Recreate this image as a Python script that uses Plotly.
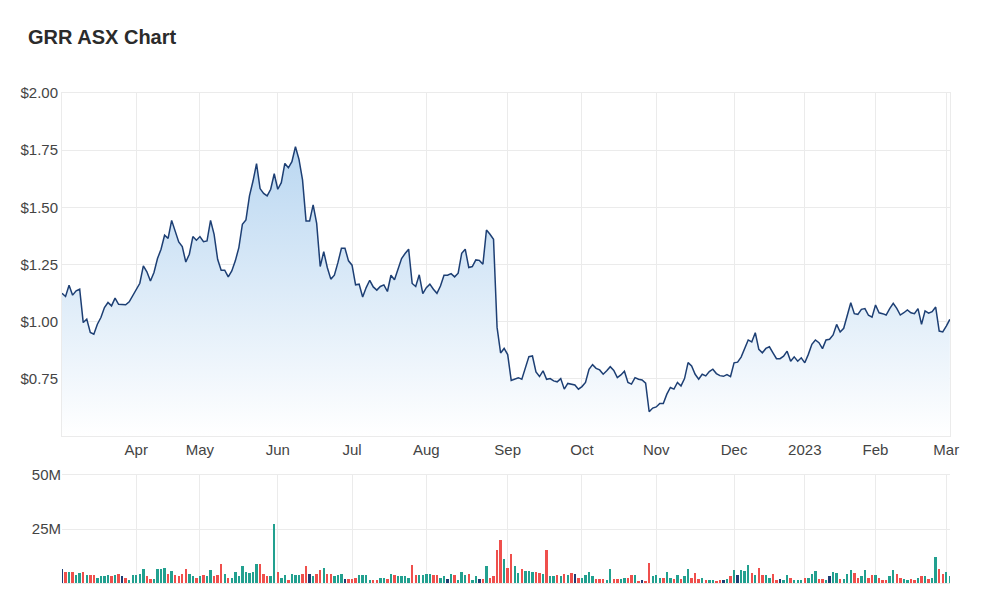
import pandas as pd
import plotly.graph_objects as go

# ---------------- data ----------------
HOLIDAYS = ["2022-04-15", "2022-04-18", "2022-04-25", "2022-06-13", "2022-09-22",
            "2022-12-26", "2022-12-27", "2023-01-02", "2023-01-26"]
START_DATE = "2022-03-03"
END_DATE = "2023-03-02"

MONTH_LABELS = ["Apr", "May", "Jun", "Jul", "Aug", "Sep", "Oct", "Nov", "Dec", "2023", "Feb", "Mar"]

CLOSE = [
    1.124, 1.110, 1.159, 1.116, 1.135, 1.142, 0.996, 1.011, 0.953, 0.945,
    0.989, 1.018, 1.062, 1.084, 1.069, 1.103, 1.076, 1.076, 1.074, 1.087,
    1.113, 1.142, 1.168, 1.244, 1.218, 1.178, 1.215, 1.276, 1.317, 1.378,
    1.364, 1.443, 1.397, 1.349, 1.328, 1.261, 1.295, 1.372, 1.356, 1.372,
    1.350, 1.353, 1.443, 1.382, 1.273, 1.225, 1.225, 1.196, 1.222, 1.266,
    1.324, 1.426, 1.445, 1.550, 1.615, 1.691, 1.582, 1.561, 1.550, 1.579,
    1.647, 1.579, 1.608, 1.692, 1.673, 1.700, 1.765, 1.710, 1.620, 1.440,
    1.440, 1.511, 1.430, 1.241, 1.306, 1.237, 1.186, 1.203, 1.258, 1.321,
    1.321, 1.266, 1.247, 1.161, 1.164, 1.108, 1.149, 1.181, 1.152, 1.138,
    1.154, 1.161, 1.132, 1.203, 1.183, 1.225, 1.276, 1.298, 1.317, 1.167,
    1.154, 1.205, 1.123, 1.149, 1.164, 1.142, 1.124, 1.156, 1.203, 1.203,
    1.210, 1.196, 1.212, 1.299, 1.317, 1.237, 1.241, 1.270, 1.268, 1.251,
    1.401, 1.382, 1.360, 0.975, 0.863, 0.883, 0.856, 0.743, 0.750, 0.755,
    0.748, 0.799, 0.847, 0.850, 0.780, 0.760, 0.785, 0.748, 0.751, 0.741,
    0.737, 0.751, 0.705, 0.730, 0.727, 0.723, 0.705, 0.716, 0.734, 0.792,
    0.812, 0.796, 0.789, 0.770, 0.785, 0.803, 0.787, 0.755, 0.767, 0.783,
    0.734, 0.727, 0.755, 0.748, 0.745, 0.731, 0.606, 0.622, 0.627, 0.642,
    0.642, 0.683, 0.712, 0.705, 0.734, 0.719, 0.751, 0.821, 0.806, 0.770,
    0.748, 0.770, 0.763, 0.782, 0.792, 0.773, 0.764, 0.761, 0.769, 0.760,
    0.820, 0.823, 0.845, 0.879, 0.920, 0.911, 0.952, 0.879, 0.864, 0.883,
    0.890, 0.864, 0.838, 0.838, 0.849, 0.871, 0.827, 0.846, 0.827, 0.842,
    0.820, 0.857, 0.901, 0.920, 0.908, 0.882, 0.920, 0.923, 0.942, 0.988,
    0.955, 0.971, 1.032, 1.083, 1.035, 1.032, 1.054, 1.057, 1.028, 1.020,
    1.073, 1.039, 1.035, 1.029, 1.057, 1.080, 1.058, 1.029, 1.039, 1.051,
    1.039, 1.035, 1.057, 0.988, 1.047, 1.037, 1.044, 1.064, 0.959, 0.955,
    0.981, 1.010,
]

VOLUME_M = [
    6.7, 5.1, 5.1, 5.1, 3.6, 4.6, 5.1, 3.6, 3.6, 3.6,
    2.5, 3.1, 3.1, 3.6, 3.1, 3.6, 4.0, 3.1, 2.5, 1.5,
    3.6, 3.6, 4.3, 6.7, 3.1, 2.0, 2.0, 6.7, 6.7, 7.1,
    4.0, 5.6, 3.6, 3.1, 4.0, 6.7, 4.0, 3.1, 2.5, 3.1,
    3.6, 3.1, 6.2, 3.1, 3.6, 9.0, 4.3, 2.5, 2.5, 5.1,
    3.1, 8.0, 5.1, 4.6, 5.1, 9.0, 9.0, 4.0, 3.1, 3.1,
    27.1, 5.1, 2.5, 3.6, 1.5, 4.0, 3.6, 3.6, 4.0, 8.0,
    4.0, 3.1, 4.0, 6.2, 7.1, 4.0, 4.0, 3.1, 3.6, 4.0,
    2.0, 2.0, 2.0, 2.5, 3.6, 3.6, 3.6, 1.5, 1.5, 1.5,
    2.5, 2.5, 2.0, 4.0, 3.6, 3.1, 3.1, 3.1, 2.5, 8.5,
    3.6, 3.6, 3.6, 4.0, 4.0, 3.6, 3.6, 2.5, 3.1, 2.0,
    4.0, 3.6, 1.5, 5.1, 3.6, 4.0, 1.5, 3.1, 2.0, 2.0,
    7.7, 2.5, 3.1, 15.2, 19.8, 11.0, 7.1, 13.2, 7.7, 4.6,
    6.7, 5.6, 5.6, 5.1, 5.1, 4.6, 4.0, 15.5, 3.1, 3.1,
    3.6, 3.1, 4.0, 3.6, 4.6, 4.0, 2.5, 2.5, 3.6, 5.1,
    3.1, 2.0, 2.0, 2.0, 1.5, 6.7, 2.0, 2.0, 2.0, 2.5,
    2.5, 3.6, 3.6, 0.9, 1.5, 0.9, 9.4, 3.1, 3.6, 2.5,
    2.5, 5.1, 2.5, 2.0, 3.6, 2.0, 3.1, 6.7, 2.5, 4.6,
    2.0, 2.5, 1.5, 1.5, 1.5, 0.9, 1.5, 1.5, 2.0, 3.1,
    6.2, 3.6, 6.2, 5.6, 8.5, 4.6, 3.6, 7.1, 3.6, 3.6,
    2.5, 4.0, 1.5, 2.0, 1.5, 3.6, 2.5, 1.5, 1.5, 1.5,
    2.5, 2.5, 4.0, 5.6, 2.0, 2.0, 1.5, 3.1, 5.1, 4.6,
    2.0, 2.0, 4.0, 6.2, 4.6, 2.5, 3.1, 6.2, 2.5, 3.6,
    3.6, 2.5, 1.5, 1.5, 3.1, 6.2, 4.0, 2.5, 2.0, 1.5,
    2.0, 1.5, 2.5, 3.1, 3.1, 2.0, 2.5, 12.1, 6.7, 4.0,
    5.1, 3.1,
]

# day direction for the volume bar colour: u = up, d = down, n = unchanged
DIRECTION = """
n d u d u u d u d d   u u u u d u d n d u   u u u u d d u u u u
d u d d d d u u d u   d u u d d d u d u u   u u u u u u d d d u
u d u u d u u u d d   n u d d u d d u u u   n d d d u u u u d d
u u d u d u u u u d   d u u u u d d u u n   u d u u u d u u n d
u d d d d u d d u u   d u u u d d u d u u   d u d u d n d u u u
u d d d u u d d u u   d d u d n d d u u u   d u u d u d u u d d
d u d u u d d n u d   u n u u u d u d d u   u d d n u u d u u u
d u u u d d u n u u   d u u u d d u u d d   u d d d u u d d u u
d d u d u d u u d d   u u
""".split()

# ---------------- build ----------------
days = [d for d in pd.bdate_range(START_DATE, END_DATE) if d.strftime("%Y-%m-%d") not in HOLIDAYS]
dates = [d.strftime("%Y-%m-%d") for d in days]
assert len(dates) == len(CLOSE) == len(VOLUME_M) == len(DIRECTION), (len(dates), len(CLOSE), len(VOLUME_M), len(DIRECTION))

tick_dates = []
seen = set()
for d in days:
    key = (d.year, d.month)
    if key not in seen:
        seen.add(key)
        tick_dates.append(d.strftime("%Y-%m-%d"))
tick_dates = tick_dates[1:]  # first tick is April 2022

volume = [v * 1e6 for v in VOLUME_M]
COLOR_MAP = {"u": "#22a08f", "d": "#ef4f4c", "n": "#1f3d73"}
bar_colors = [COLOR_MAP[c] for c in DIRECTION]

FONT = "Liberation Sans, Arial, sans-serif"
GRID = "#ebebeb"
TICK_FONT = dict(family=FONT, size=15, color="#444444")

fig = go.Figure()
fig.add_trace(go.Scatter(
    x=dates, y=CLOSE, mode="lines",
    line=dict(color="#1d3f74", width=1.5),
    fill="tozeroy",
    fillgradient=dict(type="vertical",
                      colorscale=[[0, "rgba(255,255,255,1)"], [1, "rgba(186,215,241,1)"]],
                      start=0.5, stop=1.77),
    xaxis="x", yaxis="y", hoverinfo="skip", showlegend=False,
))
fig.add_trace(go.Bar(
    x=dates, y=volume, marker=dict(color=bar_colors, line=dict(width=0)),
    width=0.68, xaxis="x2", yaxis="y2", showlegend=False, hoverinfo="skip",
))

N = len(dates)
xrange = [0, N - 1 + 0.05]
fig.update_layout(
    width=1000, height=605,
    margin=dict(l=62, r=50, t=93, b=22),
    paper_bgcolor="white", plot_bgcolor="white",
    font=dict(family=FONT),
    title=dict(text="<b>GRR ASX Chart</b>", x=0.028, xref="container", xanchor="left",
               y=1 - 37 / 605, yref="container", yanchor="middle",
               font=dict(family=FONT, size=20, color="#2b2b2b")),
    bargap=0,
    xaxis=dict(domain=[0, 1], anchor="y", type="category", range=xrange,
               tickmode="array", tickvals=tick_dates, ticktext=MONTH_LABELS,
               showgrid=True, gridcolor=GRID, ticks="", tickfont=TICK_FONT,
               showline=True, linecolor=GRID, mirror=True, zeroline=False),
    yaxis=dict(domain=[0.3, 1], anchor="x", range=[0.5, 2.0],
               tickmode="array", tickvals=[0.75, 1.0, 1.25, 1.5, 1.75, 2.0],
               ticktext=["$0.75", "$1.00", "$1.25", "$1.50", "$1.75", "$2.00"],
               showgrid=True, gridcolor=GRID, ticks="", tickfont=TICK_FONT,
               showline=True, linecolor=GRID, mirror=True, zeroline=False),
    xaxis2=dict(domain=[0, 1], anchor="y2", type="category", range=xrange, matches="x",
                tickmode="array", tickvals=tick_dates, showticklabels=False,
                showgrid=True, gridcolor=GRID, ticks="",
                showline=True, linecolor=GRID, mirror=True, zeroline=False),
    yaxis2=dict(domain=[0, 108 / 490], anchor="x2", range=[0, 50e6],
                tickmode="array", tickvals=[25e6, 50e6], ticktext=["25M", "50M"],
                showgrid=True, gridcolor=GRID, ticks="", tickfont=TICK_FONT,
                showline=False, zeroline=False),
)

fig.write_html("out.html")
